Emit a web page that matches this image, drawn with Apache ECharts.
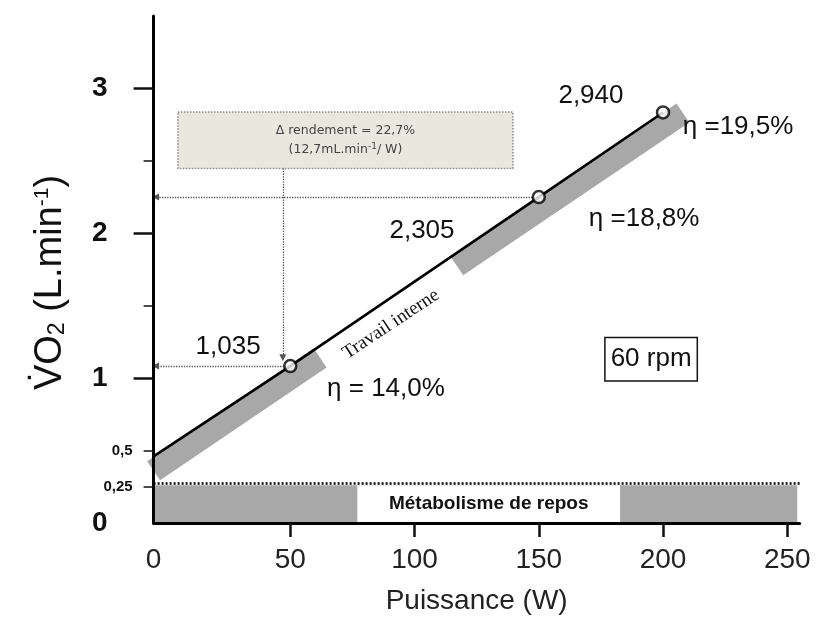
<!DOCTYPE html>
<html><head><meta charset="utf-8">
<script src="https://cdn.jsdelivr.net/npm/echarts@6/dist/echarts.min.js"></script>
<style>html,body{margin:0;padding:0;background:#fff}#c{width:816px;height:625px}</style>
</head><body><div id="c"></div>
<script>
// ---- data ----
const powerW = [50, 150, 200];
const vo2Plotted = [1.083, 2.25, 2.834];
const vo2Labels = ['1,035', '2,305', '2,940'];
const efficiencyLabels = ['η = 14,0%', 'η =18,8%', 'η =19,5%'];
const fitLineW = [-5, 50, 150, 200];
const fitLineV = [0.46, 1.083, 2.25, 2.834];
const bandSeg1W = [-5, 62];
const bandSeg1V = [0.36, 1.14];
const bandSeg2W = [117, 208];
const bandSeg2V = [1.776, 2.83];
const restW = [-5, 254];
const restLevel = 0.26;
const restDottedLevel = 0.275;
const restLabelW = [77, 182.7];
const xTickValues = [50, 100, 150, 200, 250];
const yTickValues = [0, 0.25, 0.5, 1, 2, 3];
const yTickLabels = ['0', '0,25', '0,5', '1', '2', '3'];
const yMinorTicks = [0.25, 0.5, 1.5, 2.5];
const yMajorTicks = [1, 2, 3];

const X_MIN = -5, X_MAX = 255, Y_MAX = 3.5;
const F = 'Liberation Sans, Arial, Helvetica, sans-serif';

const pair = (xs, ys) => xs.map((x, i) => [x, ys[i]]);

function txt(coord, text, style) {
  return {
    coord: coord, symbol: 'circle', symbolSize: 1,
    itemStyle: { color: 'rgba(0,0,0,0)' },
    label: Object.assign({ show: true, position: 'inside', formatter: text,
      color: '#111', fontFamily: F, fontSize: 26 }, style || {})
  };
}

const valueAnchors = [[25, 1.214], [103, 2.02], [171, 2.952]];
const effAnchors = [[88.5, 0.924], [192.4, 2.097], [230.2, 2.738]];

const chart = echarts.init(document.getElementById('c'), null, { renderer: 'canvas' });

const option = {
  animation: false,
  backgroundColor: '#fff',
  grid: { left: 153.6, right: 16.3, top: 16, bottom: 102, containLabel: false },
  xAxis: {
    type: 'value', min: X_MIN, max: X_MAX, z: 10,
    splitLine: { show: false },
    axisLine: { onZero: false, lineStyle: { color: '#000', width: 3 } },
    axisTick: { show: true, customValues: xTickValues, length: 14, lineStyle: { width: 2.5, color: '#111' } },
    axisLabel: {
      customValues: [X_MIN].concat(xTickValues),
      formatter: v => (v === X_MIN ? '0' : String(v)),
      fontSize: 28, fontFamily: F, color: '#222', margin: 23
    },
    name: 'Puissance (W)', nameLocation: 'middle', nameGap: 64,
    nameTextStyle: { fontSize: 28, fontFamily: F, color: '#222' }
  },
  yAxis: [{
    type: 'value', min: 0, max: Y_MAX, z: 10,
    splitLine: { show: false },
    axisLine: { show: true, onZero: false, lineStyle: { color: '#000', width: 3 } },
    axisTick: { show: true, customValues: yMajorTicks, length: 20, lineStyle: { width: 2.5, color: '#111' } },
    axisLabel: {
      customValues: yTickValues,
      formatter: v => {
        const i = yTickValues.indexOf(v);
        const t = i >= 0 ? yTickLabels[i] : String(v);
        return (v === 0 || v >= 1) ? '{big|' + t + '}' : '{small|' + t + '}';
      },
      margin: 21,
      rich: {
        big: { fontSize: 28, fontWeight: 'bold', fontFamily: F, color: '#111', padding: [0, 25, 0, 0] },
        small: { fontSize: 15, fontWeight: 'bold', fontFamily: F, color: '#111' }
      }
    },
    name: '{v|V\u0307O}{sub|2}{v| (L.min}{sup|-1}{v|)}',
    nameLocation: 'middle', nameRotate: 90, nameGap: 84,
    nameTextStyle: {
      padding: [0, 26, 0, 0],
      rich: {
        v: { fontSize: 38, fontFamily: F, color: '#111' },
        sub: { fontSize: 23, lineHeight: 18, verticalAlign: 'bottom', fontFamily: F, color: '#111' },
        sup: { fontSize: 21, lineHeight: 20, verticalAlign: 'top', fontFamily: F, color: '#111' }
      }
    }
  }, {
    type: 'value', min: 0, max: Y_MAX, position: 'left', z: 10,
    splitLine: { show: false },
    axisLine: { show: false, onZero: false },
    axisLabel: { show: false },
    axisTick: { show: true, customValues: yMinorTicks, length: 10, lineStyle: { width: 1.5, color: '#111' } }
  }],
  series: [
    { // resting metabolism band
      type: 'line', data: [], z: 1, silent: true,
      markArea: { silent: true, itemStyle: { color: '#a8a8a8' },
        data: [[{ coord: [restW[0], 0] }, { coord: [restW[1], restLevel] }]] }
    },
    { // white label box in rest band
      type: 'line', data: [], z: 2, silent: true,
      markArea: { silent: true, itemStyle: { color: '#fff' },
        label: { show: true, position: 'inside', formatter: 'Métabolisme de repos',
          fontFamily: F, fontWeight: 'bold', fontSize: 19, color: '#111' },
        data: [[{ coord: [restLabelW[0], 0] }, { coord: [restLabelW[1], restLevel] }]] }
    },
    { // dotted line at rest level
      type: 'line', data: [], z: 3, silent: true,
      markLine: { silent: true, symbol: ['none', 'none'], label: { show: false },
        lineStyle: { type: [2, 2], color: '#111', width: 2.6 },
        data: [[{ coord: [X_MIN, restDottedLevel] }, { coord: [X_MAX, restDottedLevel] }]] }
    },
    { // grey band segment 1
      type: 'line', data: pair(bandSeg1W, bandSeg1V), z: 4, symbol: 'none', silent: true,
      lineStyle: { width: 23, color: '#a8a8a8', cap: 'butt' }
    },
    { // grey band segment 2
      type: 'line', data: pair(bandSeg2W, bandSeg2V), z: 4, symbol: 'none', silent: true,
      lineStyle: { width: 23, color: '#a8a8a8', cap: 'butt' }
    },
    { // dotted arrows + annotation box
      type: 'line', data: [], z: 5, silent: true,
      markLine: { silent: true, symbol: ['none', 'triangle'], symbolSize: [7, 7], label: { show: false },
        lineStyle: { type: 'dotted', color: '#555', width: 1.3 },
        data: [
          [{ coord: [powerW[0] - 1.5, vo2Plotted[0]] }, { coord: [X_MIN + 0.8, vo2Plotted[0]] }],
          [{ coord: [powerW[1] - 1.5, vo2Plotted[1]] }, { coord: [X_MIN + 0.8, vo2Plotted[1]] }],
          [{ coord: [47, 2.448] }, { coord: [47, 1.14] }]
        ] },
      markArea: { silent: true,
        itemStyle: { color: '#e9e8df', borderColor: '#8a8a8a', borderWidth: 1.5, borderType: 'dotted' },
        label: { show: true, position: 'inside', align: 'center',
          formatter: '{a|Δ rendement = 22,7%}\n{a|(12,7mL.min}{s|-1}{a|/ W)}',
          rich: {
            a: { fontFamily: 'DejaVu Sans, Verdana, sans-serif', fontSize: 12.5, color: '#444', lineHeight: 19 },
            s: { fontFamily: 'DejaVu Sans, Verdana, sans-serif', fontSize: 9, color: '#444', lineHeight: 19, verticalAlign: 'top', padding: [2, 0, 0, 0] }
          } },
        data: [[{ coord: [4.8, 2.837] }, { coord: [139.6, 2.448] }]] }
    },
    { // regression line
      type: 'line', data: pair(fitLineW, fitLineV), z: 6, symbol: 'none', silent: true,
      lineStyle: { width: 2.6, color: '#000' }
    },
    { // measured points
      type: 'scatter', data: pair(powerW, vo2Plotted), z: 7, symbol: 'circle', symbolSize: 12, silent: true,
      itemStyle: { color: '#fff', borderColor: '#000', borderWidth: 2.5 }
    },
    { // text annotations
      type: 'line', data: [], z: 8, silent: true,
      markPoint: { silent: true,
        data: [
          ...vo2Labels.map((t, i) => txt(valueAnchors[i], t)),
          ...efficiencyLabels.map((t, i) => txt(effAnchors[i], t)),
          txt([90.5, 1.372], 'Travail interne', { fontFamily: 'Liberation Serif, DejaVu Serif, serif', fontSize: 19, rotate: 33.6 }),
          txt([195.2, 1.131], '60 rpm', { borderColor: '#111', borderWidth: 1.5, backgroundColor: '#fff', padding: [9, 5, 7, 5], fontSize: 26 })
        ] }
    }
  ]
};
chart.setOption(option);
</script>
</body></html>
